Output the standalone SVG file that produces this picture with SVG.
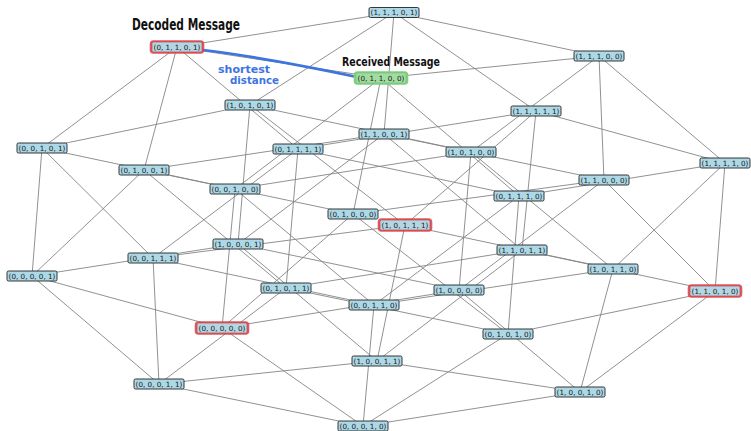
<svg xmlns="http://www.w3.org/2000/svg" width="751" height="431" viewBox="0 0 751 431">
<style>
.e line{stroke:#858585;stroke-width:0.9}
.n rect{fill:#add8e6;stroke:#222;stroke-width:0.9}
.n rect.hr{fill:none;stroke:#e0474c;stroke-width:2.6;stroke-opacity:0.9}
.n rect.hg{fill:none;stroke:#7fd07f;stroke-width:2.6}
.n rect.ir{fill:#b4d6e2;stroke:#b8383f;stroke-width:0.6}
.n rect.ig{fill:#a3dca3;stroke:#6cbf6c;stroke-width:0.6}
.n text{font-family:"DejaVu Sans",sans-serif;font-size:7.2px;fill:#1a1a1a;text-anchor:middle}
.note{font-family:"DejaVu Sans",sans-serif;fill:#111;font-weight:bold}
</style>
<rect width="751" height="431" fill="#fff"/>
<g id="edges" class="e">
<line x1="222" y1="328" x2="32" y2="276"/>
<line x1="222" y1="328" x2="363" y2="426"/>
<line x1="222" y1="328" x2="235" y2="189"/>
<line x1="222" y1="328" x2="353" y2="214"/>
<line x1="222" y1="328" x2="459" y2="290"/>
<line x1="32" y1="276" x2="159" y2="384"/>
<line x1="32" y1="276" x2="42" y2="148"/>
<line x1="32" y1="276" x2="144" y2="170"/>
<line x1="32" y1="276" x2="238" y2="244"/>
<line x1="363" y1="426" x2="159" y2="384"/>
<line x1="363" y1="426" x2="374" y2="305"/>
<line x1="363" y1="426" x2="508" y2="334"/>
<line x1="363" y1="426" x2="580" y2="392"/>
<line x1="159" y1="384" x2="153" y2="258"/>
<line x1="159" y1="384" x2="286" y2="288"/>
<line x1="159" y1="384" x2="377" y2="361"/>
<line x1="235" y1="189" x2="42" y2="148"/>
<line x1="235" y1="189" x2="374" y2="305"/>
<line x1="235" y1="189" x2="381" y2="78"/>
<line x1="235" y1="189" x2="471" y2="152"/>
<line x1="42" y1="148" x2="153" y2="258"/>
<line x1="42" y1="148" x2="177" y2="47"/>
<line x1="42" y1="148" x2="250" y2="105"/>
<line x1="374" y1="305" x2="153" y2="258"/>
<line x1="374" y1="305" x2="519" y2="196"/>
<line x1="374" y1="305" x2="613" y2="269"/>
<line x1="153" y1="258" x2="298" y2="149"/>
<line x1="153" y1="258" x2="405" y2="225"/>
<line x1="353" y1="214" x2="144" y2="170"/>
<line x1="353" y1="214" x2="508" y2="334"/>
<line x1="353" y1="214" x2="381" y2="78"/>
<line x1="353" y1="214" x2="604" y2="180"/>
<line x1="144" y1="170" x2="286" y2="288"/>
<line x1="144" y1="170" x2="177" y2="47"/>
<line x1="144" y1="170" x2="384" y2="134"/>
<line x1="508" y1="334" x2="286" y2="288"/>
<line x1="508" y1="334" x2="519" y2="196"/>
<line x1="508" y1="334" x2="715" y2="291"/>
<line x1="286" y1="288" x2="298" y2="149"/>
<line x1="286" y1="288" x2="522" y2="250"/>
<line x1="381" y1="78" x2="177" y2="47"/>
<line x1="381" y1="78" x2="519" y2="196"/>
<line x1="381" y1="78" x2="599" y2="56"/>
<line x1="177" y1="47" x2="298" y2="149"/>
<line x1="177" y1="47" x2="394" y2="12.5"/>
<line x1="519" y1="196" x2="298" y2="149"/>
<line x1="519" y1="196" x2="725" y2="163"/>
<line x1="298" y1="149" x2="536" y2="111"/>
<line x1="459" y1="290" x2="238" y2="244"/>
<line x1="459" y1="290" x2="580" y2="392"/>
<line x1="459" y1="290" x2="471" y2="152"/>
<line x1="459" y1="290" x2="604" y2="180"/>
<line x1="238" y1="244" x2="377" y2="361"/>
<line x1="238" y1="244" x2="250" y2="105"/>
<line x1="238" y1="244" x2="384" y2="134"/>
<line x1="580" y1="392" x2="377" y2="361"/>
<line x1="580" y1="392" x2="613" y2="269"/>
<line x1="580" y1="392" x2="715" y2="291"/>
<line x1="377" y1="361" x2="405" y2="225"/>
<line x1="377" y1="361" x2="522" y2="250"/>
<line x1="471" y1="152" x2="250" y2="105"/>
<line x1="471" y1="152" x2="613" y2="269"/>
<line x1="471" y1="152" x2="599" y2="56"/>
<line x1="250" y1="105" x2="405" y2="225"/>
<line x1="250" y1="105" x2="394" y2="12.5"/>
<line x1="613" y1="269" x2="405" y2="225"/>
<line x1="613" y1="269" x2="725" y2="163"/>
<line x1="405" y1="225" x2="536" y2="111"/>
<line x1="604" y1="180" x2="384" y2="134"/>
<line x1="604" y1="180" x2="715" y2="291"/>
<line x1="604" y1="180" x2="599" y2="56"/>
<line x1="384" y1="134" x2="522" y2="250"/>
<line x1="384" y1="134" x2="394" y2="12.5"/>
<line x1="715" y1="291" x2="522" y2="250"/>
<line x1="715" y1="291" x2="725" y2="163"/>
<line x1="522" y1="250" x2="536" y2="111"/>
<line x1="599" y1="56" x2="394" y2="12.5"/>
<line x1="599" y1="56" x2="725" y2="163"/>
<line x1="394" y1="12.5" x2="536" y2="111"/>
<line x1="725" y1="163" x2="536" y2="111"/>
</g>
<g id="shortest-distance">
<path d="M203,50 Q262,57 357,77" fill="none" stroke="#3d74e0" stroke-width="2.6" stroke-linecap="round"/>
<text x="218" y="73" font-family="DejaVu Sans, sans-serif" font-size="10.5" font-weight="bold" fill="#3d74e0" textLength="52" lengthAdjust="spacingAndGlyphs">shortest</text>
<text x="230" y="84" font-family="DejaVu Sans, sans-serif" font-size="10.5" font-weight="bold" fill="#3d74e0" textLength="49" lengthAdjust="spacingAndGlyphs">distance</text>
</g>
<text class="note" x="132" y="30" font-size="15" textLength="108" lengthAdjust="spacingAndGlyphs">Decoded Message</text>
<text class="note" x="342" y="66" font-size="13" textLength="98" lengthAdjust="spacingAndGlyphs">Received Message</text>
<g id="n11101" class="n"><rect x="369" y="7.5" width="50" height="10" rx="1.5"/><text x="394" y="15">(1, 1, 1, 0, 1)</text></g>
<g id="n01101" class="n"><rect class="hr" x="151" y="41.5" width="52" height="11" rx="2.5"/><rect class="ir" x="152" y="42" width="50" height="10" rx="1.5"/><text x="177" y="49.5">(0, 1, 1, 0, 1)</text></g>
<g id="n11100" class="n"><rect x="574" y="51" width="50" height="10" rx="1.5"/><text x="599" y="58.5">(1, 1, 1, 0, 0)</text></g>
<g id="n01100" class="n"><rect class="hg" x="355" y="72.5" width="52" height="11" rx="2.5"/><rect class="ig" x="356" y="73" width="50" height="10" rx="1.5"/><text x="381" y="80.5">(0, 1, 1, 0, 0)</text></g>
<g id="n10101" class="n"><rect x="225" y="100" width="50" height="10" rx="1.5"/><text x="250" y="107.5">(1, 0, 1, 0, 1)</text></g>
<g id="n11111" class="n"><rect x="511" y="106" width="50" height="10" rx="1.5"/><text x="536" y="113.5">(1, 1, 1, 1, 1)</text></g>
<g id="n11001" class="n"><rect x="359" y="129" width="50" height="10" rx="1.5"/><text x="384" y="136.5">(1, 1, 0, 0, 1)</text></g>
<g id="n00101" class="n"><rect x="17" y="143" width="50" height="10" rx="1.5"/><text x="42" y="150.5">(0, 0, 1, 0, 1)</text></g>
<g id="n01111" class="n"><rect x="273" y="144" width="50" height="10" rx="1.5"/><text x="298" y="151.5">(0, 1, 1, 1, 1)</text></g>
<g id="n10100" class="n"><rect x="446" y="147" width="50" height="10" rx="1.5"/><text x="471" y="154.5">(1, 0, 1, 0, 0)</text></g>
<g id="n11110" class="n"><rect x="700" y="158" width="50" height="10" rx="1.5"/><text x="725" y="165.5">(1, 1, 1, 1, 0)</text></g>
<g id="n01001" class="n"><rect x="119" y="165" width="50" height="10" rx="1.5"/><text x="144" y="172.5">(0, 1, 0, 0, 1)</text></g>
<g id="n11000" class="n"><rect x="579" y="175" width="50" height="10" rx="1.5"/><text x="604" y="182.5">(1, 1, 0, 0, 0)</text></g>
<g id="n00100" class="n"><rect x="210" y="184" width="50" height="10" rx="1.5"/><text x="235" y="191.5">(0, 0, 1, 0, 0)</text></g>
<g id="n01110" class="n"><rect x="494" y="191" width="50" height="10" rx="1.5"/><text x="519" y="198.5">(0, 1, 1, 1, 0)</text></g>
<g id="n01000" class="n"><rect x="328" y="209" width="50" height="10" rx="1.5"/><text x="353" y="216.5">(0, 1, 0, 0, 0)</text></g>
<g id="n10111" class="n"><rect class="hr" x="379" y="219.5" width="52" height="11" rx="2.5"/><rect class="ir" x="380" y="220" width="50" height="10" rx="1.5"/><text x="405" y="227.5">(1, 0, 1, 1, 1)</text></g>
<g id="n10001" class="n"><rect x="213" y="239" width="50" height="10" rx="1.5"/><text x="238" y="246.5">(1, 0, 0, 0, 1)</text></g>
<g id="n11011" class="n"><rect x="497" y="245" width="50" height="10" rx="1.5"/><text x="522" y="252.5">(1, 1, 0, 1, 1)</text></g>
<g id="n00111" class="n"><rect x="128" y="253" width="50" height="10" rx="1.5"/><text x="153" y="260.5">(0, 0, 1, 1, 1)</text></g>
<g id="n10110" class="n"><rect x="588" y="264" width="50" height="10" rx="1.5"/><text x="613" y="271.5">(1, 0, 1, 1, 0)</text></g>
<g id="n00001" class="n"><rect x="7" y="271" width="50" height="10" rx="1.5"/><text x="32" y="278.5">(0, 0, 0, 0, 1)</text></g>
<g id="n01011" class="n"><rect x="261" y="283" width="50" height="10" rx="1.5"/><text x="286" y="290.5">(0, 1, 0, 1, 1)</text></g>
<g id="n10000" class="n"><rect x="434" y="285" width="50" height="10" rx="1.5"/><text x="459" y="292.5">(1, 0, 0, 0, 0)</text></g>
<g id="n11010" class="n"><rect class="hr" x="689" y="285.5" width="52" height="11" rx="2.5"/><rect class="ir" x="690" y="286" width="50" height="10" rx="1.5"/><text x="715" y="293.5">(1, 1, 0, 1, 0)</text></g>
<g id="n00110" class="n"><rect x="349" y="300" width="50" height="10" rx="1.5"/><text x="374" y="307.5">(0, 0, 1, 1, 0)</text></g>
<g id="n00000" class="n"><rect class="hr" x="196" y="322.5" width="52" height="11" rx="2.5"/><rect class="ir" x="197" y="323" width="50" height="10" rx="1.5"/><text x="222" y="330.5">(0, 0, 0, 0, 0)</text></g>
<g id="n01010" class="n"><rect x="483" y="329" width="50" height="10" rx="1.5"/><text x="508" y="336.5">(0, 1, 0, 1, 0)</text></g>
<g id="n10011" class="n"><rect x="352" y="356" width="50" height="10" rx="1.5"/><text x="377" y="363.5">(1, 0, 0, 1, 1)</text></g>
<g id="n00011" class="n"><rect x="134" y="379" width="50" height="10" rx="1.5"/><text x="159" y="386.5">(0, 0, 0, 1, 1)</text></g>
<g id="n10010" class="n"><rect x="555" y="387" width="50" height="10" rx="1.5"/><text x="580" y="394.5">(1, 0, 0, 1, 0)</text></g>
<g id="n00010" class="n"><rect x="338" y="421" width="50" height="10" rx="1.5"/><text x="363" y="428.5">(0, 0, 0, 1, 0)</text></g>
</svg>
